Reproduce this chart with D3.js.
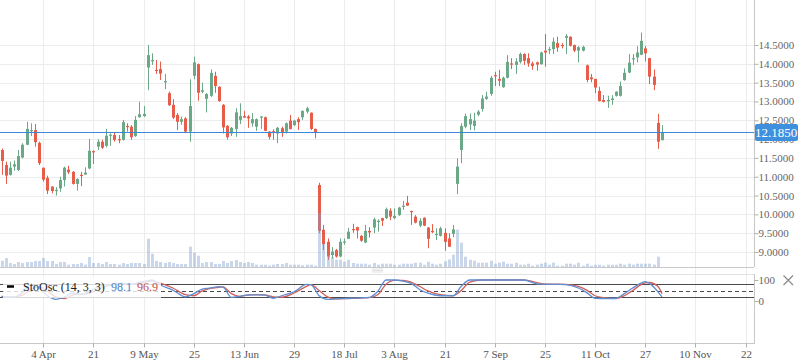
<!DOCTYPE html>
<html>
<head>
<meta charset="utf-8">
<script src="https://cdnjs.cloudflare.com/ajax/libs/d3/7.8.5/d3.min.js"></script>
<style>
  body { margin: 0; background: #fff; }
  text { font-family: "Liberation Serif", "DejaVu Serif", serif; }
</style>
</head>
<body>
<script>
// daily OHLC, one entry per trading day
const opens = [
  11.71, 11.31, 11.05, 11.27, 11.18, 11.51, 11.85, 12.22, 12.24, 11.90,
  11.24, 10.97, 10.74, 10.62, 10.69, 10.91, 11.19, 11.13, 10.81, 11.05,
  11.06, 11.22, 11.68, 11.80, 11.93, 11.82, 12.09, 12.11, 12.00, 11.98,
  12.35, 12.33, 12.08, 12.58, 12.61, 13.90, 14.07, 13.84, 13.86, 13.52,
  13.22, 12.91, 12.64, 12.46, 12.55, 12.20, 13.68, 13.99, 13.26, 13.07,
  13.15, 13.68, 13.39, 12.91, 12.35, 12.15, 12.27, 12.51, 12.61, 12.60,
  12.42, 12.33, 12.57, 12.58, 12.20, 12.21, 12.15, 12.29, 12.20, 12.49,
  12.37, 12.53, 12.58, 12.73, 12.70, 12.27, 10.78, 9.59, 9.27, 8.92,
  9.05, 8.88, 9.26, 9.35, 9.61, 9.66, 9.43, 9.25, 9.56, 9.65,
  9.81, 9.90, 9.90, 10.10, 9.90, 9.98, 10.20, 10.31, 10.09, 9.94,
  9.70, 9.91, 9.65, 9.56, 9.45, 9.43, 9.51, 9.36, 9.48, 10.81,
  11.71, 12.33, 12.39, 12.35, 12.65, 12.80, 13.07, 13.20, 13.70, 13.60,
  13.38, 13.63, 14.01, 13.97, 14.05, 14.26, 14.15, 14.01, 14.04, 13.99,
  14.35, 14.36, 14.39, 14.55, 14.50, 14.69, 14.72, 14.50, 14.35, 14.35,
  13.96, 13.64, 13.60, 13.28, 13.04, 13.01, 13.04, 13.15, 13.15, 13.57,
  13.77, 14.12, 14.17, 14.24, 14.41, 14.15, 13.66, 12.43, 11.97
];
const highs = [
  11.75, 11.40, 11.40, 11.43, 11.71, 11.89, 12.46, 12.42, 12.40, 11.93,
  11.24, 11.03, 10.74, 10.72, 11.00, 11.27, 11.29, 11.15, 10.96, 11.13,
  11.25, 12.00, 11.70, 12.00, 11.98, 12.27, 12.15, 12.17, 12.11, 12.51,
  12.42, 12.37, 12.61, 12.99, 12.88, 14.50, 14.28, 14.10, 14.06, 13.73,
  13.26, 13.06, 12.69, 12.60, 12.58, 13.59, 14.19, 14.01, 13.50, 13.22,
  13.85, 13.79, 13.40, 12.93, 12.37, 12.32, 12.82, 12.95, 12.75, 12.64,
  12.69, 12.55, 12.61, 12.60, 12.21, 12.26, 12.32, 12.33, 12.44, 12.64,
  12.51, 12.58, 12.76, 12.86, 12.71, 12.28, 10.84, 9.72, 9.36, 9.13,
  9.08, 9.36, 9.36, 9.64, 9.75, 9.67, 9.45, 9.72, 9.66, 9.91,
  9.87, 9.91, 10.18, 10.16, 10.16, 10.20, 10.36, 10.49, 10.10, 9.98,
  9.90, 9.92, 9.66, 9.74, 9.63, 9.67, 9.63, 9.50, 9.72, 11.49,
  12.42, 12.68, 12.68, 12.70, 12.77, 13.17, 13.26, 13.68, 13.79, 13.84,
  13.66, 14.23, 14.15, 14.15, 14.30, 14.28, 14.28, 14.06, 14.06, 14.32,
  14.79, 14.45, 14.70, 14.72, 14.55, 14.79, 14.73, 14.51, 14.47, 14.48,
  13.98, 13.73, 13.60, 13.39, 13.17, 13.15, 13.17, 13.27, 13.53, 13.88,
  14.26, 14.26, 14.47, 14.83, 14.47, 14.16, 13.85, 12.67, 12.37
];
const lows = [
  11.05, 10.81, 11.03, 11.16, 11.15, 11.49, 11.84, 12.08, 11.80, 11.31,
  10.87, 10.54, 10.56, 10.50, 10.60, 10.74, 11.07, 10.79, 10.63, 10.75,
  11.05, 11.20, 11.34, 11.71, 11.74, 11.78, 11.82, 11.93, 11.89, 11.96,
  12.20, 11.98, 12.06, 12.57, 12.59, 13.30, 13.97, 13.73, 13.57, 13.33,
  12.88, 12.53, 12.24, 12.38, 12.19, 11.93, 13.59, 13.02, 13.22, 12.71,
  13.12, 13.23, 12.99, 12.15, 11.99, 12.08, 12.06, 12.40, 12.56, 12.30,
  12.33, 12.22, 12.27, 12.21, 11.99, 11.98, 11.89, 12.06, 12.15, 12.26,
  12.35, 12.24, 12.51, 12.68, 12.24, 12.02, 9.50, 9.05, 8.79, 8.83,
  8.85, 8.86, 9.19, 9.35, 9.51, 9.36, 9.27, 9.24, 9.38, 9.50,
  9.54, 9.69, 9.87, 9.85, 9.87, 9.96, 10.12, 10.22, 9.72, 9.76,
  9.66, 9.69, 9.10, 9.50, 9.32, 9.41, 9.03, 9.14, 9.39, 10.54,
  11.36, 12.29, 12.24, 12.23, 12.61, 12.73, 13.04, 13.15, 13.41, 13.41,
  13.36, 13.61, 13.86, 13.73, 14.01, 13.97, 13.92, 13.84, 13.82, 13.98,
  13.92, 14.26, 14.26, 14.32, 14.41, 14.26, 14.46, 14.31, 14.04, 14.33,
  13.51, 13.51, 13.22, 13.00, 12.97, 12.83, 12.91, 13.13, 13.13, 13.55,
  13.75, 13.97, 14.04, 14.23, 14.06, 13.46, 13.30, 11.74, 11.97
];
const closes = [
  11.42, 11.03, 11.24, 11.33, 11.55, 11.85, 12.27, 12.24, 11.92, 11.36,
  10.92, 10.63, 10.62, 10.65, 10.91, 11.24, 11.12, 10.81, 10.94, 11.02,
  11.11, 11.69, 11.65, 11.93, 11.77, 12.09, 12.12, 11.98, 11.98, 12.45,
  12.33, 12.05, 12.51, 12.66, 12.67, 14.23, 14.10, 13.82, 13.74, 13.54,
  12.90, 12.57, 12.46, 12.53, 12.20, 12.88, 14.04, 13.23, 13.30, 13.20,
  13.76, 13.41, 13.01, 12.31, 12.05, 12.30, 12.71, 12.61, 12.57, 12.55,
  12.53, 12.53, 12.60, 12.22, 12.06, 12.19, 12.30, 12.18, 12.42, 12.27,
  12.49, 12.45, 12.75, 12.82, 12.27, 12.18, 9.56, 9.21, 8.88, 9.01,
  8.88, 9.27, 9.28, 9.54, 9.59, 9.57, 9.30, 9.56, 9.52, 9.87,
  9.83, 9.83, 10.14, 9.94, 9.96, 10.18, 10.23, 10.23, 10.06, 9.78,
  9.83, 9.70, 9.35, 9.53, 9.48, 9.63, 9.27, 9.14, 9.60, 11.27,
  12.35, 12.61, 12.53, 12.49, 12.73, 13.08, 13.13, 13.63, 13.67, 13.55,
  13.63, 14.05, 13.98, 14.06, 14.26, 14.08, 14.01, 13.94, 13.98, 14.30,
  14.30, 14.39, 14.59, 14.43, 14.47, 14.74, 14.48, 14.35, 14.44, 14.45,
  13.57, 13.59, 13.37, 13.01, 12.99, 13.04, 13.08, 13.26, 13.41, 13.76,
  14.03, 14.15, 14.30, 14.61, 14.28, 13.66, 13.44, 11.93, 12.185
];
// volume in thousands
const volumes = [
  630, 900, 400, 300, 500, 400, 500, 500, 600, 600,
  900, 600, 600, 300, 500, 500, 230, 300, 300, 400,
  230, 1000, 400, 400, 300, 500, 300, 300, 230, 400,
  300, 400, 400, 400, 300, 2830, 1330, 600, 500, 400,
  500, 400, 300, 300, 300, 2030, 1430, 1130, 400, 500,
  500, 300, 300, 600, 400, 600, 700, 500, 400, 500,
  400, 230, 230, 230, 130, 230, 300, 300, 400, 230,
  230, 230, 170, 230, 230, 130, 5400, 2300, 1200, 1000,
  730, 730, 530, 730, 400, 330, 330, 330, 230, 400,
  230, 330, 330, 330, 230, 230, 330, 330, 330, 430,
  430, 230, 530, 330, 230, 330, 570, 770, 1230, 3730,
  2430, 1030, 730, 630, 430, 430, 430, 630, 330, 430,
  530, 330, 330, 430, 230, 230, 330, 130, 230, 330,
  430, 230, 430, 130, 130, 330, 330, 230, 430, 130,
  330, 130, 230, 230, 130, 230, 230, 230, 330, 230,
  330, 230, 330, 330, 330, 330, 230, 1030, 0
];

// x axis: a label every 12 trading days, starting at bar 10
const tickLabels = ["4 Apr", "21", "9 May", "25", "13 Jun", "29", "18 Jul", "3 Aug",
                    "21", "7 Sep", "25", "11 Oct", "27", "10 Nov", "22"];
const tickBars = tickLabels.map((d, k) => 10 + 12 * k);

const priceTicks = [9, 9.5, 10, 10.5, 11, 11.5, 12, 12.5, 13, 13.5, 14, 14.5];

// stochastic oscillator (14,3,3) at these bars
const stoBars = [0, 3, 5, 7, 9, 11, 13, 15, 17, 19, 21, 23, 25, 27, 29, 31, 33, 35, 36, 38,
                 41, 44, 46, 48, 50, 52, 53, 55, 57, 59, 61, 63, 65, 67, 70, 73, 74, 76, 78, 80,
                 83, 86, 88, 90, 92, 94, 96, 98, 100, 102, 105, 108, 110, 112, 115, 118, 121, 125, 128, 130,
                 133, 135, 138, 140, 142, 145, 147, 149, 151, 153, 154, 155, 157, 158];
const stoK = [20, 18, 40, 75, 62, 25, 8, 18, 38, 32, 45, 65, 78, 80, 85, 78, 90, 97, 100, 76,
              52, 20, 35, 57, 62, 68, 66, 17, 22, 29, 29, 28, 13, 25, 44, 79, 78, 25, 8, 10,
              13, 15, 17, 45, 100, 100, 95, 84, 55, 37, 25, 25, 70, 100, 100, 100, 100, 100, 82, 80,
              79, 78, 62, 40, 13, 12, 13, 35, 62, 85, 92, 84, 45, 20];
const stoD = [22, 20, 28, 55, 68, 45, 20, 12, 28, 33, 38, 55, 70, 78, 82, 80, 84, 92, 96, 85,
              62, 30, 25, 48, 60, 65, 67, 35, 22, 28, 30, 29, 20, 18, 38, 70, 78, 50, 20, 10,
              12, 14, 16, 30, 80, 98, 98, 90, 70, 48, 30, 25, 50, 90, 100, 100, 100, 100, 88, 80,
              80, 79, 70, 52, 25, 14, 12, 25, 50, 78, 86, 88, 70, 35];
const legendK = "98.1", legendD = "96.9";

const canvWidth = 798, canvHeight = 363;
const plotRight = 754;
const mainBottom = 267, oscTop = 274, axisY = 343;
const upColor = "#6aa887", downColor = "#e85c4a";

const svg = d3.select("body").append("svg")
    .attr("width", canvWidth)
    .attr("height", canvHeight);

// scales
const x = d3.scaleLinear().domain([0, 178]).range([1.5, 1.5 + 178 * 4.18]);
const y = d3.scaleLinear().domain([9, 14.5]).range([252, 45]);
const yVol = d3.scaleLinear().domain([0, 6000]).range([mainBottom, mainBottom - 60]);
const yOsc = d3.scaleLinear().domain([0, 100]).range([301, 280]);
const px = i => Math.round(x(i));

// grid
svg.append("g").selectAll("line").data(tickBars).enter().append("line")
    .attr("x1", d => px(d) + 0.5).attr("x2", d => px(d) + 0.5)
    .attr("y1", 0).attr("y2", axisY)
    .attr("stroke", "#ececec");
svg.append("g").selectAll("line").data(priceTicks).enter().append("line")
    .attr("x1", 0).attr("x2", plotRight)
    .attr("y1", d => Math.round(y(d)) + 0.5).attr("y2", d => Math.round(y(d)) + 0.5)
    .attr("stroke", "#ececec");

// candles
const bars = d3.range(opens.length);
const candles = svg.append("g").selectAll("g").data(bars).enter().append("g");
candles.append("line")
    .attr("x1", i => px(i) + 0.5).attr("x2", i => px(i) + 0.5)
    .attr("y1", i => y(highs[i])).attr("y2", i => y(lows[i]))
    .attr("stroke", i => closes[i] >= opens[i] ? upColor : downColor);
candles.append("rect")
    .attr("x", i => px(i) - 1)
    .attr("width", 3)
    .attr("y", i => y(Math.max(opens[i], closes[i])))
    .attr("height", i => Math.max(1.2, Math.abs(y(opens[i]) - y(closes[i]))))
    .attr("fill", i => closes[i] >= opens[i] ? upColor : downColor);

// volume, drawn over the candles, see-through
svg.append("g").selectAll("rect").data(bars).enter().append("rect")
    .attr("x", i => px(i) - 1)
    .attr("width", 3)
    .attr("y", i => yVol(volumes[i]))
    .attr("height", i => mainBottom - yVol(volumes[i]))
    .attr("fill", "rgb(128,160,206)")
    .attr("fill-opacity", 0.42);

// last price line
const last = closes[closes.length - 1];
const yLast = Math.round(y(last)) + 0.5;
svg.append("line")
    .attr("x1", 0).attr("x2", plotRight)
    .attr("y1", yLast).attr("y2", yLast)
    .attr("stroke", "#3b87d8");

// panel frames
svg.append("line").attr("x1", 0).attr("x2", plotRight)
    .attr("y1", mainBottom + 0.5).attr("y2", mainBottom + 0.5).attr("stroke", "#c8c8c8");
svg.append("line").attr("x1", 0).attr("x2", plotRight)
    .attr("y1", oscTop + 0.5).attr("y2", oscTop + 0.5).attr("stroke", "#e2e2e2");
svg.append("line").attr("x1", plotRight + 0.5).attr("x2", plotRight + 0.5)
    .attr("y1", 0).attr("y2", mainBottom).attr("stroke", "#c8c8c8");
svg.append("line").attr("x1", plotRight + 0.5).attr("x2", plotRight + 0.5)
    .attr("y1", oscTop).attr("y2", axisY).attr("stroke", "#c8c8c8");
[269, 270.5, 272].forEach(yy => svg.append("line")
    .attr("x1", 372).attr("x2", 383).attr("y1", yy).attr("y2", yy)
    .attr("stroke", "#d4d4d4").attr("stroke-width", 0.7));

// right price axis
const yAxis = d3.axisRight(y).tickValues(priceTicks).tickFormat(d3.format(".4f")).tickSize(4);
const gy = svg.append("g").attr("transform", `translate(${plotRight + 0.5},0)`).call(yAxis);
gy.select(".domain").remove();
gy.selectAll(".tick line").attr("stroke", "#b0b0b0");
gy.selectAll(".tick text").attr("fill", "#666").style("font-size", "11px")
    .style("font-family", "'Liberation Serif', serif").attr("x", 4);

// last price tag
svg.append("rect").attr("x", 755).attr("y", yLast - 8.5).attr("width", 43).attr("height", 17)
    .attr("rx", 2).attr("fill", "#3f8fdf");
svg.append("text").attr("x", 776).attr("y", yLast + 4.5)
    .attr("text-anchor", "middle").attr("fill", "#fff")
    .style("font-size", "13px").text(d3.format(".4f")(last));

// oscillator
[80, 50, 20].forEach(v => svg.append("line")
    .attr("x1", 0).attr("x2", plotRight)
    .attr("y1", Math.round(yOsc(v)) + 0.5).attr("y2", Math.round(yOsc(v)) + 0.5)
    .attr("stroke", "#4a4a4a")
    .attr("stroke-dasharray", v === 50 ? "4,3" : null));
const stoLine = vals => d3.line()
    .x((d, k) => x(stoBars[k]))
    .y(d => yOsc(d))
    .curve(d3.curveMonotoneX)(vals);
svg.append("path").attr("d", stoLine(stoD)).attr("fill", "none")
    .attr("stroke", "#d2605c").attr("stroke-width", 1.3);
svg.append("path").attr("d", stoLine(stoK)).attr("fill", "none")
    .attr("stroke", "#5d8fd3").attr("stroke-width", 1.3);

const oAxis = d3.axisRight(yOsc).tickValues([0, 100]).tickSize(4);
const go = svg.append("g").attr("transform", `translate(${plotRight + 0.5},0)`).call(oAxis);
go.select(".domain").remove();
go.selectAll(".tick line").attr("stroke", "#b0b0b0");
go.selectAll(".tick text").attr("fill", "#666").style("font-size", "11px")
    .style("font-family", "'Liberation Serif', serif").attr("x", 4);

// close cross
svg.append("path").attr("d", "M783.5,275.5L793,285M793,275.5L783.5,285")
    .attr("stroke", "#8a8a8a").attr("stroke-width", 1.2);

// legend over the oscillator
svg.append("rect").attr("x", 3).attr("y", 277).attr("width", 158).attr("height", 21)
    .attr("fill", "#fff").attr("fill-opacity", 0.78);
svg.append("line").attr("x1", 7).attr("x2", 14).attr("y1", 286.5).attr("y2", 286.5)
    .attr("stroke", "#000").attr("stroke-width", 2.5);
const leg = svg.append("text").attr("x", 23).attr("y", 291).style("font-size", "12px");
leg.append("tspan").attr("fill", "#222").text("StoOsc (14, 3, 3)");
leg.append("tspan").attr("x", 111).attr("fill", "#4a7fc4").text(legendK);
leg.append("tspan").attr("x", 137).attr("fill", "#c0504d").text(legendD);

// bottom date axis
svg.append("line").attr("x1", 0).attr("x2", plotRight + 1)
    .attr("y1", axisY + 0.5).attr("y2", axisY + 0.5).attr("stroke", "#c8c8c8");
const xAxis = d3.axisBottom(x).tickValues(tickBars)
    .tickFormat((d, k) => tickLabels[k]).tickSize(4);
const gx = svg.append("g").attr("transform", `translate(0.5,${axisY + 0.5})`).call(xAxis);
gx.select(".domain").remove();
gx.selectAll(".tick").attr("transform", d => `translate(${px(d)},0)`);
gx.selectAll(".tick line").attr("stroke", "#b0b0b0");
gx.selectAll(".tick text").attr("fill", "#555").style("font-size", "11px")
    .style("font-family", "'Liberation Serif', serif").attr("y", 7);
</script>
</body>
</html>
